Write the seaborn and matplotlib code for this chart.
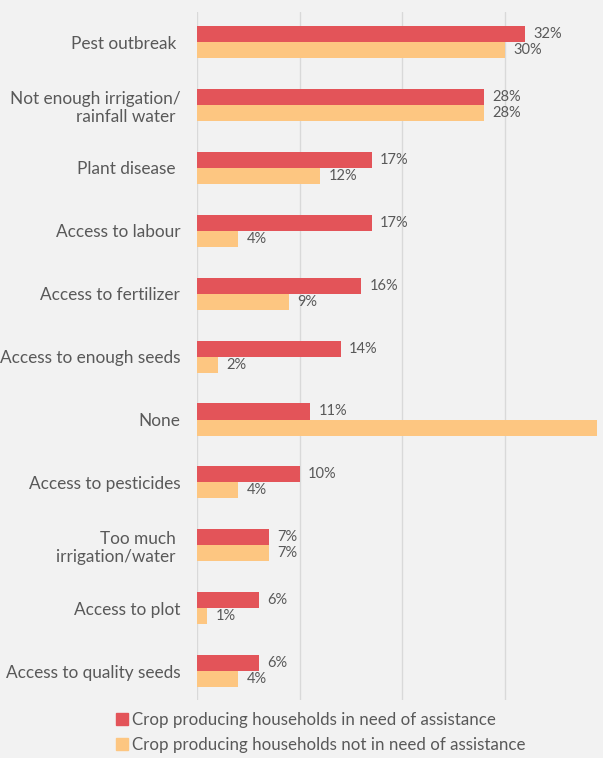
import matplotlib
matplotlib.use("Agg")
import matplotlib.pyplot as plt
import matplotlib.patches as mpatches
import seaborn as sns
import pandas as pd

categories = [
    "Pest outbreak ",
    "Not enough irrigation/\nrainfall water ",
    "Plant disease ",
    "Access to labour",
    "Access to fertilizer",
    "Access to enough seeds",
    "None",
    "Access to pesticides",
    "Too much \nirrigation/water ",
    "Access to plot",
    "Access to quality seeds",
]
need_assistance = [32, 28, 17, 17, 16, 14, 11, 10, 7, 6, 6]
no_need_assistance = [30, 28, 12, 4, 9, 2, 39, 4, 7, 1, 4]
series_names = [
    "Crop producing households in need of assistance",
    "Crop producing households not in need of assistance",
]
colors = ["#E35459", "#FDC681"]

df = pd.DataFrame({
    "category": categories * 2,
    "value": need_assistance + no_need_assistance,
    "group": [series_names[0]] * len(categories) + [series_names[1]] * len(categories),
})

sns.set_theme(style="white")
plt.rcParams["font.family"] = ["Lato", "DejaVu Sans"]
text_color = "#595959"
bg = "#F2F2F2"

fig = plt.figure(figsize=(6.03, 7.58), dpi=100, facecolor=bg)
ax = fig.add_axes([197 / 603, 1 - 700 / 758, 1 - 197 / 603, (700 - 12) / 758])
ax.set_facecolor(bg)

sns.barplot(data=df, y="category", x="value", hue="group", hue_order=series_names,
            palette=colors, orient="h", width=0.51, ax=ax, legend=False,
            saturation=1, edgecolor="none")

xmax = 39.55
ax.set_xlim(0, xmax)
ax.set_ylim(10.46, -0.48)
ax.set_xticks([0, 10, 20, 30])
ax.xaxis.grid(True, color="#D9D9D9", linewidth=1)
ax.set_axisbelow(True)
ax.tick_params(axis="x", length=0, labelbottom=False)
ax.tick_params(axis="y", length=0, pad=12, labelsize=12.4, labelcolor=text_color)
for s in ax.spines.values():
    s.set_visible(False)
ax.set_xlabel("")
ax.set_ylabel("")

# value labels; a bar running past the right edge keeps its label off-canvas
for container in ax.containers:
    labels = [f"{v:.0f}%" if v < xmax - 1 else "" for v in container.datavalues]
    ax.bar_label(container, labels=labels, padding=6, fontsize=10.5, color=text_color)

handles = [mpatches.Patch(color=c, label=n) for c, n in zip(colors, series_names)]
fig.legend(handles=handles, loc="upper left", bbox_to_anchor=(104 / 603, 1 - 700 / 758),
           frameon=False, fontsize=12.2, labelcolor=text_color,
           handlelength=0.7, handleheight=0.7, handletextpad=0.25, labelspacing=0.55,
           borderaxespad=0.3)

fig.savefig("out.png", dpi=100, facecolor=bg)
